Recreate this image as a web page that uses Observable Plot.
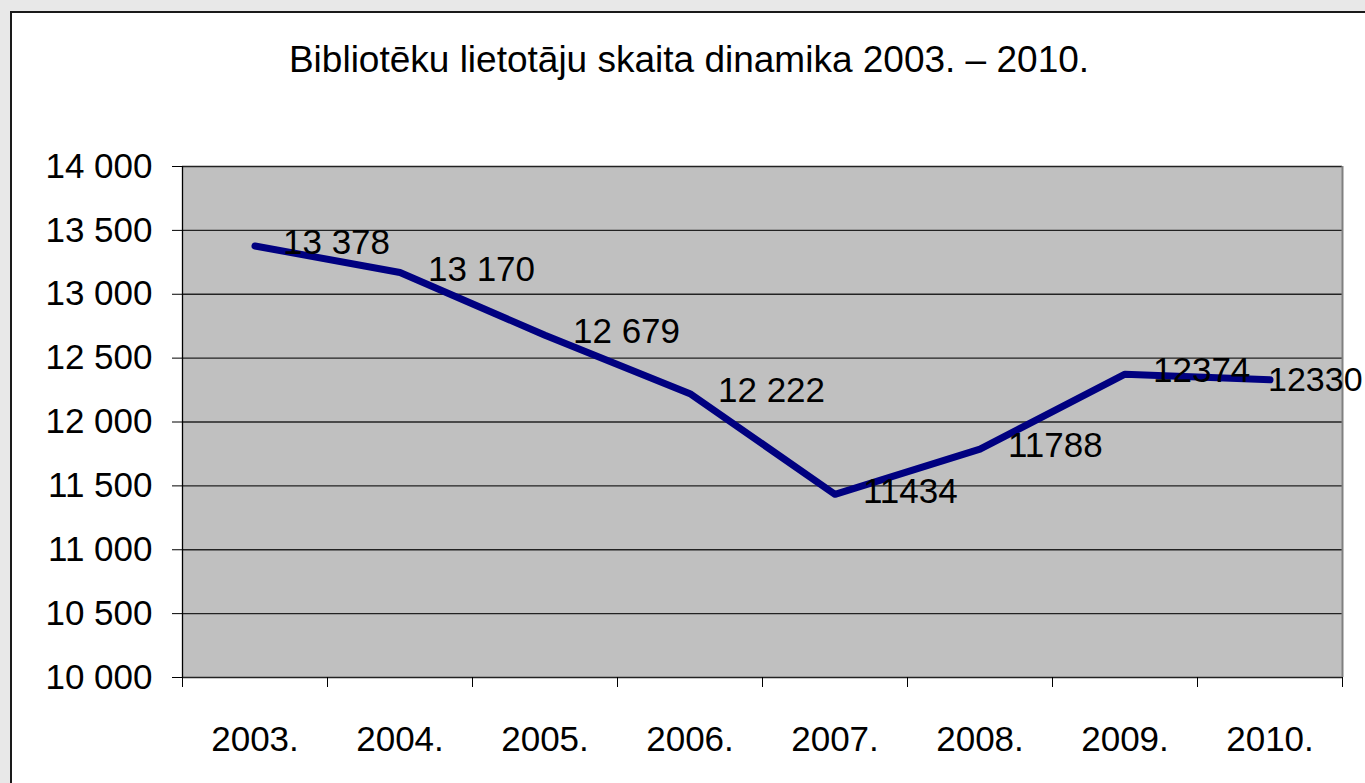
<!DOCTYPE html>
<html>
<head>
<meta charset="utf-8">
<script src="https://cdn.jsdelivr.net/npm/d3@7"></script>
<script src="https://cdn.jsdelivr.net/npm/@observablehq/plot@0.6"></script>
<style>
  html, body { margin: 0; padding: 0; width: 1365px; height: 783px; overflow: hidden; background: #e8e8e8; }
  #frame { position: absolute; left: 10px; top: 11px; width: 1400px; height: 800px; border: 2px solid #1a1a1a; background: #fff; }
  #title { position: absolute; top: 41px; left: 689px; transform: translateX(-50%); white-space: nowrap;
           font-family: "Liberation Sans", Arial, sans-serif; font-size: 37px; line-height: 38px; color: #000; }
  #chart { position: absolute; left: 0; top: 0; }
</style>
</head>
<body>
<div id="frame"></div>
<div id="title">Bibliotēku lietotāju skaita dinamika 2003. – 2010.</div>
<div id="chart"></div>
<script>
const years = [2003, 2004, 2005, 2006, 2007, 2008, 2009, 2010];
const users = [13378, 13170, 12679, 12222, 11434, 11788, 12374, 12330];
const valueLabels = ["13 378", "13 170", "12 679", "12 222", "11434", "11788", "12374", "12330"];
const yTicks = [10000, 10500, 11000, 11500, 12000, 12500, 13000, 13500, 14000];

const data = years.map((y, i) => ({year: y, value: users[i], label: valueLabels[i]}));
const boundaries = [years[0] - 0.5, ...years.map(y => y + 0.5)];
const fmt = d => d3.format(",")(d).replace(/,/g, " ");

const plot = Plot.plot({
  width: 1365,
  height: 783,
  marginLeft: 182,
  marginRight: 23,
  marginTop: 166,
  marginBottom: 106,
  style: { fontFamily: "Liberation Sans, Arial, sans-serif", fontSize: "35px", color: "#000", background: "transparent" },
  x: { type: "linear", domain: [years[0] - 0.5, years[years.length - 1] + 0.5] },
  y: { domain: [10000, 14000] },
  marks: [
    Plot.frame({ fill: "#c0c0c0", stroke: null }),
    Plot.ruleY(yTicks, { stroke: "#222", strokeWidth: 1.3 }),
    Plot.ruleX([boundaries[boundaries.length - 1]], { stroke: "#808080", strokeWidth: 2 }),
    Plot.ruleX([boundaries[0]], { stroke: "#000", strokeWidth: 1.3 }),
    Plot.axisY({ ticks: yTicks, tickFormat: fmt, tickSize: 10, tickPadding: 20, stroke: "#000", fontSize: 35, label: null }),
    Plot.axisX({ ticks: boundaries, tickFormat: () => "", tickSize: 10, stroke: "#000", label: null }),
    Plot.axisX({ ticks: years, tickFormat: d => d + ".", tickSize: 0, tickPadding: 49, fontSize: 35, label: null }),
    Plot.line(data, { x: "year", y: "value", stroke: "#000080", strokeWidth: 7, strokeLinejoin: "round", strokeLinecap: "round" }),
    Plot.text(data.slice(0, -1), { x: "year", y: "value", text: "label", textAnchor: "start", dx: 28, dy: -3, fontSize: 35, fill: "#000" }),
    Plot.text(data.slice(-1), { x: "year", y: "value", text: "label", textAnchor: "start", dx: -2, dy: 0, fontSize: 34, fill: "#000" })
  ]
});
document.getElementById("chart").appendChild(plot);
</script>
</body>
</html>
